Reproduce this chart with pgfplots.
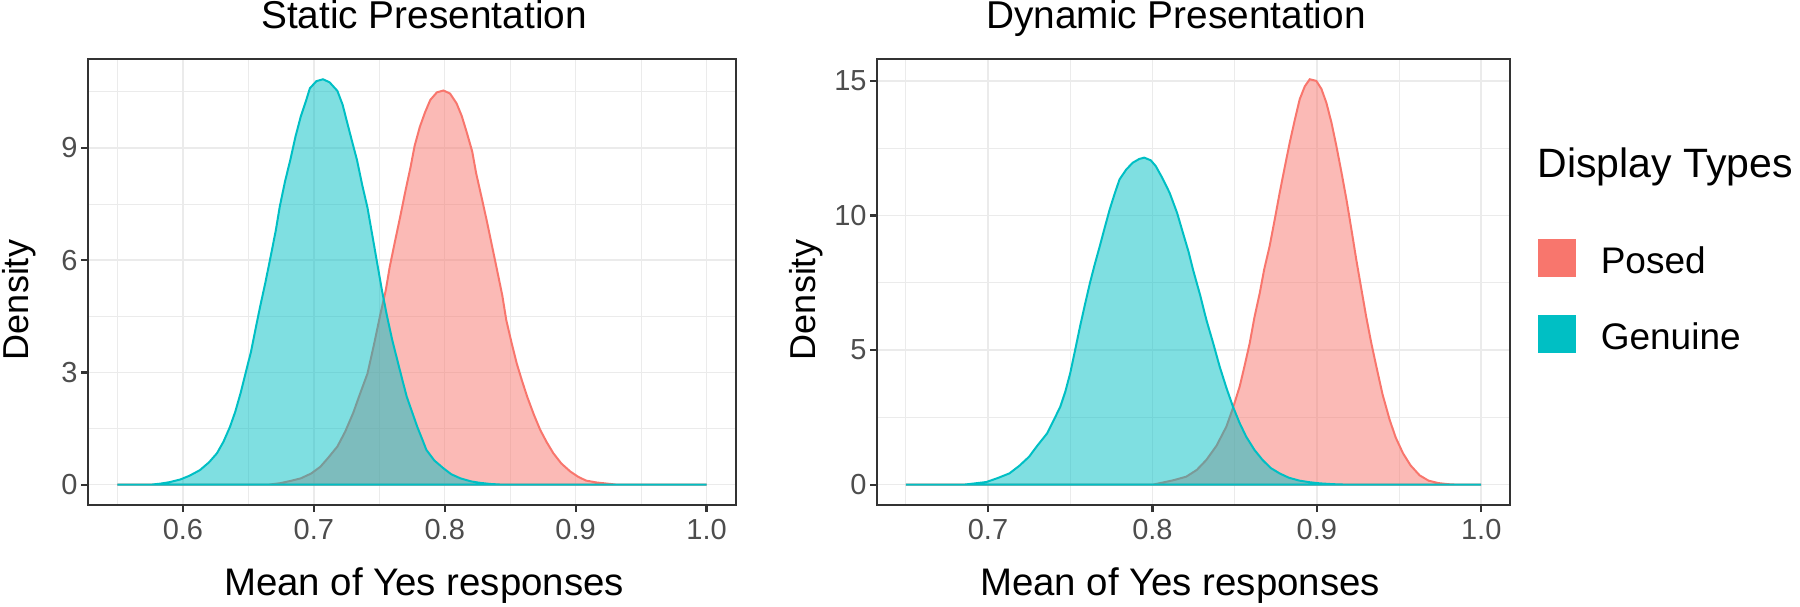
\documentclass[border=0pt]{standalone}
\usepackage{pgfplots}
\pgfplotsset{compat=1.18}
\usepackage{fontspec}
\setmainfont{Liberation Sans}
\definecolor{posed}{HTML}{F8766D}
\definecolor{genuine}{HTML}{00BFC4}
\definecolor{gridc}{HTML}{EBEBEB}
\definecolor{axc}{HTML}{333333}
\definecolor{tickc}{HTML}{4D4D4D}

\pgfplotsset{
  ggpanel/.style={
    anchor=south west, scale only axis, height=223pt,
    grid=both,
    major grid style={color=gridc, line width=0.75pt},
    minor grid style={color=gridc, line width=0.4pt},
    axis line style={color=axc, line width=1.2pt},
    tick style={color=axc, line width=1.1pt},
    tick align=outside, tick pos=left,
    major tick length=3.5pt, minor tick length=0pt,
    tick label style={font=\fontsize{14.5}{15}\selectfont, text=tickc},
    yticklabel style={inner xsep=1.5pt},
    /pgf/number format/assume math mode=true,
  },
  posedplot/.style={draw=posed, fill=posed, fill opacity=0.5, line width=1pt, forget plot},
  genplot/.style={draw=genuine, fill=genuine, fill opacity=0.5, line width=1pt, forget plot},
}

\begin{document}
\begin{tikzpicture}
\useasboundingbox (0,0) rectangle (900pt,303pt);

% ---------------- Static ----------------
\begin{axis}[ggpanel, at={(44pt,50.5pt)}, width=324pt,
  xmin=0.5275, xmax=1.0225, ymin=-0.5415, ymax=11.3715,
  xtick={0.6,0.7,0.8,0.9,1.0}, xticklabels={0.6,0.7,0.8,0.9,1.0},
  minor xtick={0.55,0.65,0.75,0.85,0.95},
  ytick={0,3,6,9}, minor ytick={1.5,4.5,7.5,10.5}]
\addplot[posedplot] coordinates {
(0.550,0) (0.665,0) (0.674,0.04) (0.682,0.10) (0.690,0.17) (0.698,0.30) (0.705,0.48)
(0.711,0.72) (0.718,1.02) (0.724,1.42) (0.730,1.91) (0.735,2.40) (0.741,2.97) (0.746,3.75)
(0.751,4.58) (0.755,5.20) (0.758,5.82) (0.762,6.50) (0.766,7.16) (0.770,7.85) (0.774,8.50)
(0.777,9.05) (0.781,9.56) (0.785,9.95) (0.789,10.28) (0.794,10.48) (0.799,10.53) (0.804,10.45)
(0.809,10.19) (0.813,9.85) (0.817,9.39) (0.821,8.90) (0.824,8.32) (0.828,7.70) (0.832,7.07)
(0.836,6.40) (0.840,5.73) (0.844,5.05) (0.847,4.40) (0.851,3.80) (0.855,3.24) (0.859,2.78)
(0.863,2.35) (0.868,1.88) (0.873,1.46) (0.878,1.13) (0.883,0.84) (0.889,0.57) (0.896,0.35)
(0.902,0.21) (0.908,0.11) (0.916,0.06) (0.924,0.03) (0.932,0) (1.000,0)
} \closedcycle;
\addplot[genplot] coordinates {
(0.550,0) (0.575,0) (0.583,0.03) (0.590,0.07) (0.598,0.14) (0.605,0.24) (0.613,0.39)
(0.620,0.60) (0.626,0.84) (0.631,1.15) (0.636,1.55) (0.640,1.95) (0.644,2.44) (0.648,3.00)
(0.652,3.55) (0.656,4.25) (0.659,4.76) (0.663,5.40) (0.667,6.09) (0.671,6.80) (0.674,7.43)
(0.678,8.10) (0.682,8.67) (0.686,9.30) (0.690,9.83) (0.694,10.25) (0.697,10.59) (0.702,10.78)
(0.707,10.83) (0.712,10.75) (0.718,10.52) (0.722,10.15) (0.725,9.74) (0.729,9.20) (0.733,8.67)
(0.737,8.00) (0.741,7.40) (0.744,6.80) (0.748,6.00) (0.752,5.20) (0.756,4.49) (0.760,3.85)
(0.764,3.30) (0.768,2.75) (0.771,2.35) (0.775,1.95) (0.779,1.55) (0.783,1.20) (0.786,0.93)
(0.792,0.65) (0.799,0.44) (0.805,0.28) (0.812,0.17) (0.820,0.09) (0.827,0.05) (0.835,0.02)
(0.845,0) (1.000,0)
} \closedcycle;
\end{axis}

% ---------------- Dynamic ----------------
\begin{axis}[ggpanel, at={(438.5pt,50.5pt)}, width=316.5pt,
  xmin=0.6325, xmax=1.0175, ymin=-0.753, ymax=15.813,
  xtick={0.7,0.8,0.9,1.0}, xticklabels={0.7,0.8,0.9,1.0},
  minor xtick={0.65,0.75,0.85,0.95},
  ytick={0,5,10,15}, minor ytick={2.5,7.5,12.5},
  legend style={at={(1.0442,0.5964)}, anchor=north west, draw=none, fill=none,
    inner sep=0pt, outer sep=0pt, row sep=19.25pt, column sep=12.5pt,
    nodes={inner sep=0pt, outer sep=0pt},
    font=\fontsize{18.5}{18.5}\selectfont},
  legend cell align=left]
\addplot[posedplot] coordinates {
(0.650,0) (0.800,0) (0.8054,0.07) (0.813,0.17) (0.8206,0.30) (0.827,0.55) (0.8328,0.92)
(0.839,1.45) (0.845,2.16) (0.849,2.85) (0.8531,3.65) (0.856,4.40) (0.8592,5.26) (0.862,6.20)
(0.8653,7.12) (0.868,8.00) (0.8713,8.86) (0.8744,9.85) (0.8774,10.84) (0.8805,11.80)
(0.8835,12.70) (0.8866,13.55) (0.8896,14.32) (0.8927,14.80) (0.8957,15.06) (0.8997,15.00)
(0.9028,14.70) (0.9058,14.19) (0.9089,13.45) (0.9119,12.58) (0.915,11.60) (0.918,10.60)
(0.921,9.50) (0.924,8.36) (0.927,7.30) (0.930,6.25) (0.933,5.30) (0.9362,4.39) (0.940,3.35)
(0.9443,2.41) (0.948,1.75) (0.9524,1.17) (0.957,0.72) (0.9625,0.35) (0.968,0.15)
(0.974,0.06) (0.980,0.02) (0.986,0) (1.000,0)
} \closedcycle;
\addplot[genplot] coordinates {
(0.650,0) (0.685,0) (0.692,0.05) (0.699,0.10) (0.706,0.25) (0.713,0.42) (0.719,0.70)
(0.725,1.04) (0.730,1.45) (0.736,1.91) (0.740,2.40) (0.744,2.90) (0.747,3.45) (0.750,4.14)
(0.753,5.00) (0.756,5.88) (0.759,6.70) (0.762,7.49) (0.765,8.20) (0.768,8.86) (0.771,9.55)
(0.774,10.22) (0.777,10.80) (0.780,11.34) (0.784,11.70) (0.788,11.96) (0.792,12.10)
(0.795,12.15) (0.799,12.05) (0.802,11.84) (0.806,11.40) (0.8105,10.84) (0.815,10.10)
(0.8186,9.35) (0.822,8.65) (0.8247,7.99) (0.829,7.05) (0.8328,6.13) (0.837,5.25) (0.8409,4.39)
(0.845,3.60) (0.849,2.90) (0.853,2.30) (0.857,1.79) (0.862,1.30) (0.867,0.92) (0.872,0.62)
(0.8774,0.42) (0.883,0.26) (0.8896,0.15) (0.896,0.09) (0.902,0.05) (0.910,0.02) (0.920,0)
(1.000,0)
} \closedcycle;
\addlegendimage{legend image code/.code={\fill[posed] (0pt,-7.45pt) rectangle (18.5pt,11.05pt);}}
\addlegendentry{Posed}
\addlegendimage{legend image code/.code={\fill[genuine] (0pt,-7.45pt) rectangle (18.5pt,11.05pt);}}
\addlegendentry{Genuine}
\end{axis}

% ---------------- Texts ----------------
\node[anchor=base, font=\fontsize{19.4}{20}\selectfont] at (212pt,288.5pt) {Static Presentation};
\node[anchor=base, font=\fontsize{19.4}{20}\selectfont] at (588pt,288.5pt) {Dynamic Presentation};
\node[anchor=base, font=\fontsize{19.2}{20}\selectfont] at (212pt,5.5pt) {Mean of Yes responses};
\node[anchor=base, font=\fontsize{19.2}{20}\selectfont] at (590pt,5.5pt) {Mean of Yes responses};
\node[anchor=base, rotate=90, font=\fontsize{18}{20}\selectfont] at (14.25pt,153pt) {Density};
\node[anchor=base, rotate=90, font=\fontsize{18}{20}\selectfont] at (407.75pt,153pt) {Density};
\node[anchor=base west, inner sep=0pt, font=\fontsize{20.5}{21}\selectfont] at (768.5pt,214pt) {Display Types};
\end{tikzpicture}
\end{document}
